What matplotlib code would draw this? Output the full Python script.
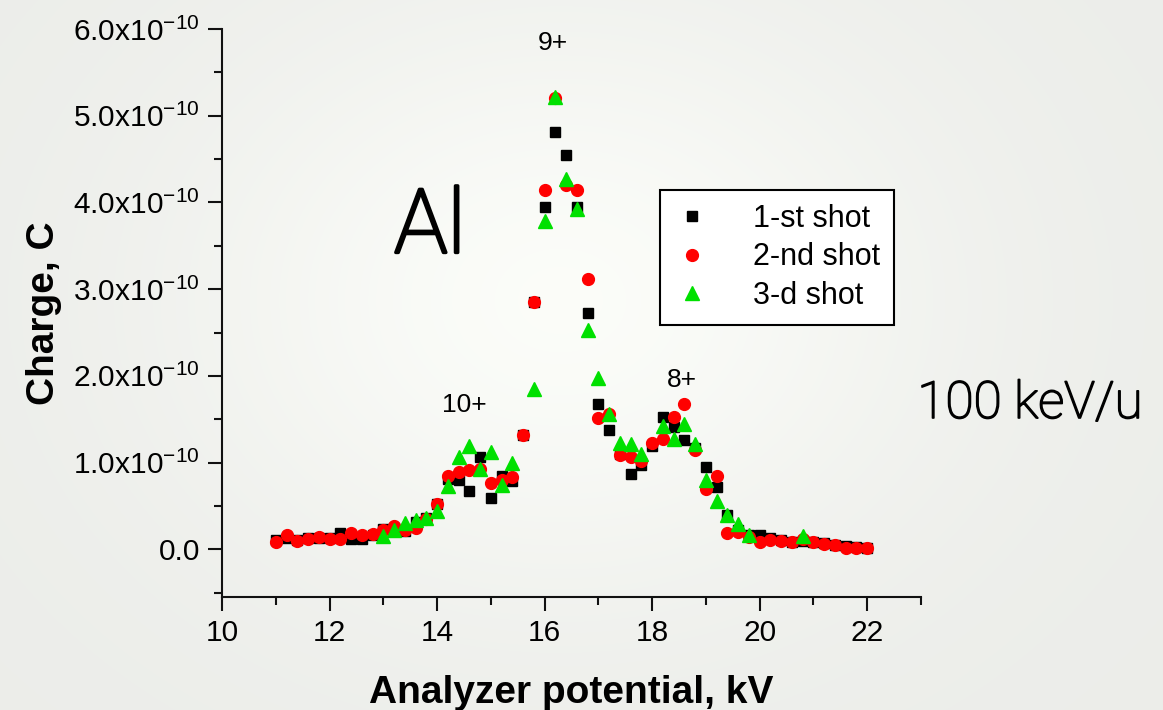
import numpy as np
import matplotlib
matplotlib.use("Agg")
import matplotlib.pyplot as plt
import matplotlib.patheffects as pe
from matplotlib.ticker import FixedLocator, MultipleLocator, FuncFormatter

# Analyzer potential (kV) and collected charge (units of 1e-10 C)
potential_shot1 = [11.0, 11.2, 11.4, 11.6, 11.8, 12.0, 12.2, 12.4, 12.6, 12.8,
                   13.0, 13.2, 13.4, 13.6, 13.8, 14.0, 14.2, 14.4, 14.6, 14.8,
                   15.0, 15.2, 15.4, 15.6, 15.8, 16.0, 16.2, 16.4, 16.6, 16.8,
                   17.0, 17.2, 17.4, 17.6, 17.8, 18.0, 18.2, 18.4, 18.6, 18.8,
                   19.0, 19.2, 19.4, 19.6, 19.8, 20.0, 20.2, 20.4, 20.6, 20.8,
                   21.0, 21.2, 21.4, 21.6, 21.8, 22.0]
charge_shot1 = [0.11, 0.13, 0.11, 0.13, 0.13, 0.13, 0.19, 0.12, 0.12, 0.17,
                0.23, 0.25, 0.21, 0.32, 0.36, 0.52, 0.81, 0.80, 0.67, 1.07,
                0.59, 0.84, 0.79, 1.32, 2.85, 3.95, 4.81, 4.55, 3.95, 2.72,
                1.68, 1.38, 1.10, 0.87, 0.97, 1.19, 1.52, 1.41, 1.26, 1.17,
                0.95, 0.72, 0.39, 0.22, 0.16, 0.16, 0.13, 0.11, 0.08, 0.10,
                0.09, 0.07, 0.05, 0.04, 0.03, 0.02]

potential_shot2 = [11.0, 11.2, 11.4, 11.6, 11.8, 12.0, 12.2, 12.4, 12.6, 12.8,
                   13.0, 13.2, 13.4, 13.6, 13.8, 14.0, 14.2, 14.4, 14.6, 14.8,
                   15.0, 15.2, 15.4, 15.6, 15.8, 16.0, 16.2, 16.4, 16.6, 16.8,
                   17.0, 17.2, 17.4, 17.6, 17.8, 18.0, 18.2, 18.4, 18.6, 18.8,
                   19.0, 19.2, 19.4, 19.6, 19.8, 20.0, 20.2, 20.4, 20.6, 20.8,
                   21.0, 21.2, 21.4, 21.6, 21.8, 22.0]
charge_shot2 = [0.08, 0.17, 0.10, 0.12, 0.14, 0.12, 0.12, 0.19, 0.17, 0.18,
                0.22, 0.27, 0.22, 0.25, 0.35, 0.52, 0.84, 0.89, 0.91, 0.93,
                0.76, 0.80, 0.83, 1.32, 2.85, 4.14, 5.20, 4.20, 4.14, 3.12,
                1.51, 1.56, 1.09, 1.06, 1.02, 1.23, 1.27, 1.52, 1.67, 1.15,
                0.69, 0.84, 0.19, 0.20, 0.14, 0.09, 0.11, 0.10, 0.09, 0.12,
                0.09, 0.06, 0.05, 0.02, 0.02, 0.015]

potential_shot3 = [13.0, 13.2, 13.4, 13.6, 13.8, 14.0, 14.2, 14.4, 14.6, 14.8,
                   15.0, 15.2, 15.4, 15.8, 16.0, 16.2, 16.4, 16.6, 16.8, 17.0,
                   17.2, 17.4, 17.6, 17.8, 18.2, 18.4, 18.6, 18.8, 19.0, 19.2,
                   19.4, 19.6, 19.8, 20.8]
charge_shot3 = [0.15, 0.22, 0.30, 0.34, 0.36, 0.44, 0.73, 1.06, 1.19, 0.93,
                1.12, 0.74, 0.99, 1.85, 3.79, 5.22, 4.27, 3.93, 2.53, 1.97,
                1.56, 1.23, 1.22, 1.10, 1.42, 1.27, 1.45, 1.22, 0.80, 0.56,
                0.39, 0.29, 0.17, 0.15]

series_labels = ["1-st shot", "2-nd shot", "3-d shot"]
x_ticks = [10, 12, 14, 16, 18, 20, 22]
y_ticks = [0.0, 1.0, 2.0, 3.0, 4.0, 5.0, 6.0]

plt.rcParams["font.family"] = ["Liberation Sans", "DejaVu Sans"]
plt.rcParams["mathtext.default"] = "regular"

W, H = 1163, 710
fig = plt.figure(figsize=(W / 100, H / 100), dpi=100)
fig.patch.set_facecolor("#eef0ec")

# soft slide backdrop
bg = fig.add_axes([0, 0, 1, 1], zorder=-10)
yy, xx = np.mgrid[0:H, 0:W]
field = 0.93 + 0.06 * np.exp(-(((xx - 560) / 380.0) ** 2 + ((yy - 300) / 300.0) ** 2))
rgb = np.dstack([field * 0.995, field * 1.0, field * 0.985])
bg.imshow(np.clip(rgb, 0, 1), aspect="auto", extent=[0, W, H, 0])
bg.set_axis_off()

ax = fig.add_axes([222 / W, 1 - 597 / H, (921 - 222) / W, (597 - 29) / H])
ax.set_facecolor("none")

ax.plot(potential_shot1, charge_shot1, ls="none", marker="s", ms=7.5,
        color="black", mec="black", label=series_labels[0], zorder=3)
ax.plot(potential_shot2, charge_shot2, ls="none", marker="o", ms=8.5,
        color="#ff0000", mec="#ff0000", label=series_labels[1], zorder=4)
ax.plot(potential_shot3, charge_shot3, ls="none", marker="^", ms=10,
        color="#00e000", mec="#00e000", label=series_labels[2], zorder=5)

ax.set_xlim(10, 23)
ax.set_ylim(-0.55, 6.0)
ax.xaxis.set_major_locator(FixedLocator(x_ticks))
ax.xaxis.set_minor_locator(MultipleLocator(1))
ax.yaxis.set_major_locator(FixedLocator(y_ticks))
ax.yaxis.set_minor_locator(MultipleLocator(0.5))


def y_fmt(v, pos):
    if abs(v) < 1e-9:
        return "0.0"
    return "%.1fx10$^{-10}$" % v


ax.yaxis.set_major_formatter(FuncFormatter(y_fmt))

for s in ("top", "right"):
    ax.spines[s].set_visible(False)
for s in ("left", "bottom"):
    ax.spines[s].set_linewidth(1.5)
    ax.spines[s].set_color("#111111")

ax.tick_params(axis="both", which="major", direction="out", length=10,
               width=1.5, labelsize=21.5, color="#111111", pad=6)
ax.tick_params(axis="both", which="minor", direction="out", length=6,
               width=1.5, color="#111111")

ax.set_xlabel("Analyzer potential, kV", fontsize=28, fontweight="bold",
              labelpad=20)
ax.set_ylabel("Charge, C", fontsize=28, fontweight="bold", labelpad=8)

# peak charge-state annotations
ax.text(16.15, 5.84, "9+", fontsize=19, ha="center", va="center")
ax.text(14.5, 1.66, "10+", fontsize=19, ha="center", va="center")
ax.text(18.55, 1.95, "8+", fontsize=19, ha="center", va="center")

thin_family = ["Roboto", "Lato", "DejaVu Sans"]
fig.text(430 / W, 1 - 228 / H, "Al", fontsize=64, family=thin_family,
         fontweight="light", ha="center", va="center",
         path_effects=[pe.withStroke(linewidth=2.4, foreground="black")])
fig.text(1030 / W, 1 - 404 / H, "100 keV/u", fontsize=37,
         family=thin_family, fontweight="light",
         ha="center", va="center",
         path_effects=[pe.withStroke(linewidth=1.2, foreground="black")])

leg = ax.legend(loc="upper left", bbox_to_anchor=(660 / W, 1 - 190 / H),
                bbox_transform=fig.transFigure, borderaxespad=0,
                frameon=True, fancybox=False, fontsize=22, handletextpad=1.4,
                labelspacing=0.28, borderpad=0.45, handlelength=1.2)
leg.get_frame().set_edgecolor("black")
leg.get_frame().set_linewidth(1.5)
leg.get_frame().set_facecolor("white")
leg.get_frame().set_alpha(1)

fig.savefig("out.png", dpi=100, facecolor=fig.get_facecolor())
